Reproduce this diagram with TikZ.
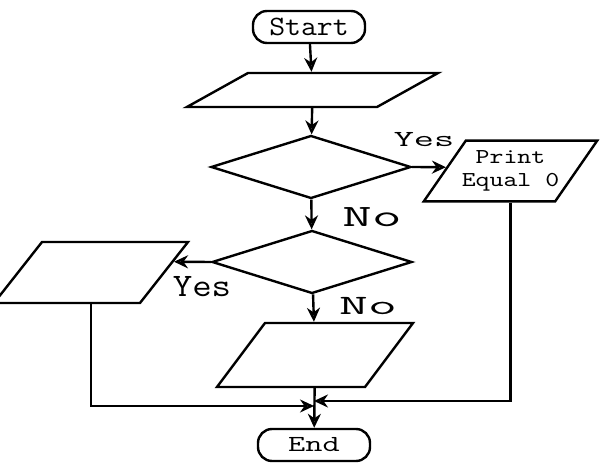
\documentclass[tikz,border=0pt]{standalone}
\usepackage{fontspec}
\usetikzlibrary{shapes.geometric,arrows.meta,calc}

\begin{document}
\begin{tikzpicture}[
    x=0.5pt, y=-0.5pt,
    line width=1.2pt,
    term/.style={rectangle, draw, rounded corners=7pt, minimum width=56pt, minimum height=16pt, inner sep=0pt},
    io/.style={trapezium, draw},
    decision/.style={diamond, draw, inner sep=0pt, minimum width=100pt, minimum height=31.5pt},
    lbl/.style={inner sep=0pt},
    arr/.style={-{Stealth[open, length=7pt, width=6.5pt]}}
]
\useasboundingbox (0,0) rectangle (600,464);
\node[term, font=\ttfamily\fontsize{14}{16}\selectfont] (start) at (309,27) {\scalebox{1.1}[1]{Start}};
\node[io, trapezium left angle=29.1, trapezium right angle=150.9, inner xsep=32.25pt, inner ysep=8.5pt] (read) at (312.5,90) {};
\node[decision] (dec1) at (311,167) {};
\node[io, trapezium left angle=55.3, trapezium right angle=124.7, inner xsep=-2pt, inner ysep=5pt, align=center, font=\ttfamily\fontsize{10.6}{11.5}\selectfont] (prt) at (510.5,171) {\scalebox{1.25}[1]{Print}\\\scalebox{1.25}[1]{Equal 0}};
\node[decision] (dec2) at (312,262) {};
\node[io, trapezium left angle=51.8, trapezium right angle=128.2, inner xsep=24.5pt, inner ysep=15.25pt] (lft) at (91,272.5) {};
\node[io, trapezium left angle=53.1, trapezium right angle=126.9, inner xsep=25pt, inner ysep=16pt] (out) at (315,355) {};
\node[term, font=\ttfamily\fontsize{11.5}{13}\selectfont] (end) at (314,445) {\scalebox{1.45}[1]{End}};

% labels
\node[lbl, font=\ttfamily\fontsize{11.5}{13}\selectfont] (yes1) at (424,140) {\scalebox{1.7}[1]{Yes}};
\node[lbl, font=\ttfamily\fontsize{15.5}{17}\selectfont] (no1) at (372,217) {\scalebox{1.85}[1]{No}};
\node[lbl, font=\ttfamily\fontsize{16.4}{18}\selectfont] (yes2) at (202,287) {\scalebox{1.15}[1]{Yes}};
\node[lbl, font=\ttfamily\fontsize{14}{16}\selectfont] (no2) at (368,306) {\scalebox{2}[1]{No}};

\coordinate (jl) at (314,406);
\coordinate (jr) at (314,401);

\draw[arr] (start) -- (read);
\draw[arr] (read) -- (dec1);
\draw[arr] (dec1.east) -- ($(prt.top left corner)!0.44!(prt.bottom left corner)$);
\draw[arr] (dec1) -- (dec2);
\draw[arr] (dec2.west) -- ($(lft.top right corner)!0.33!(lft.bottom right corner)$);
\draw[arr] (dec2) -- (out);
\draw[arr] (out) -- (end);
\draw[arr] (lft.south) |- (jl);
\draw[arr] (prt.south) |- (jr);
\end{tikzpicture}
\end{document}
